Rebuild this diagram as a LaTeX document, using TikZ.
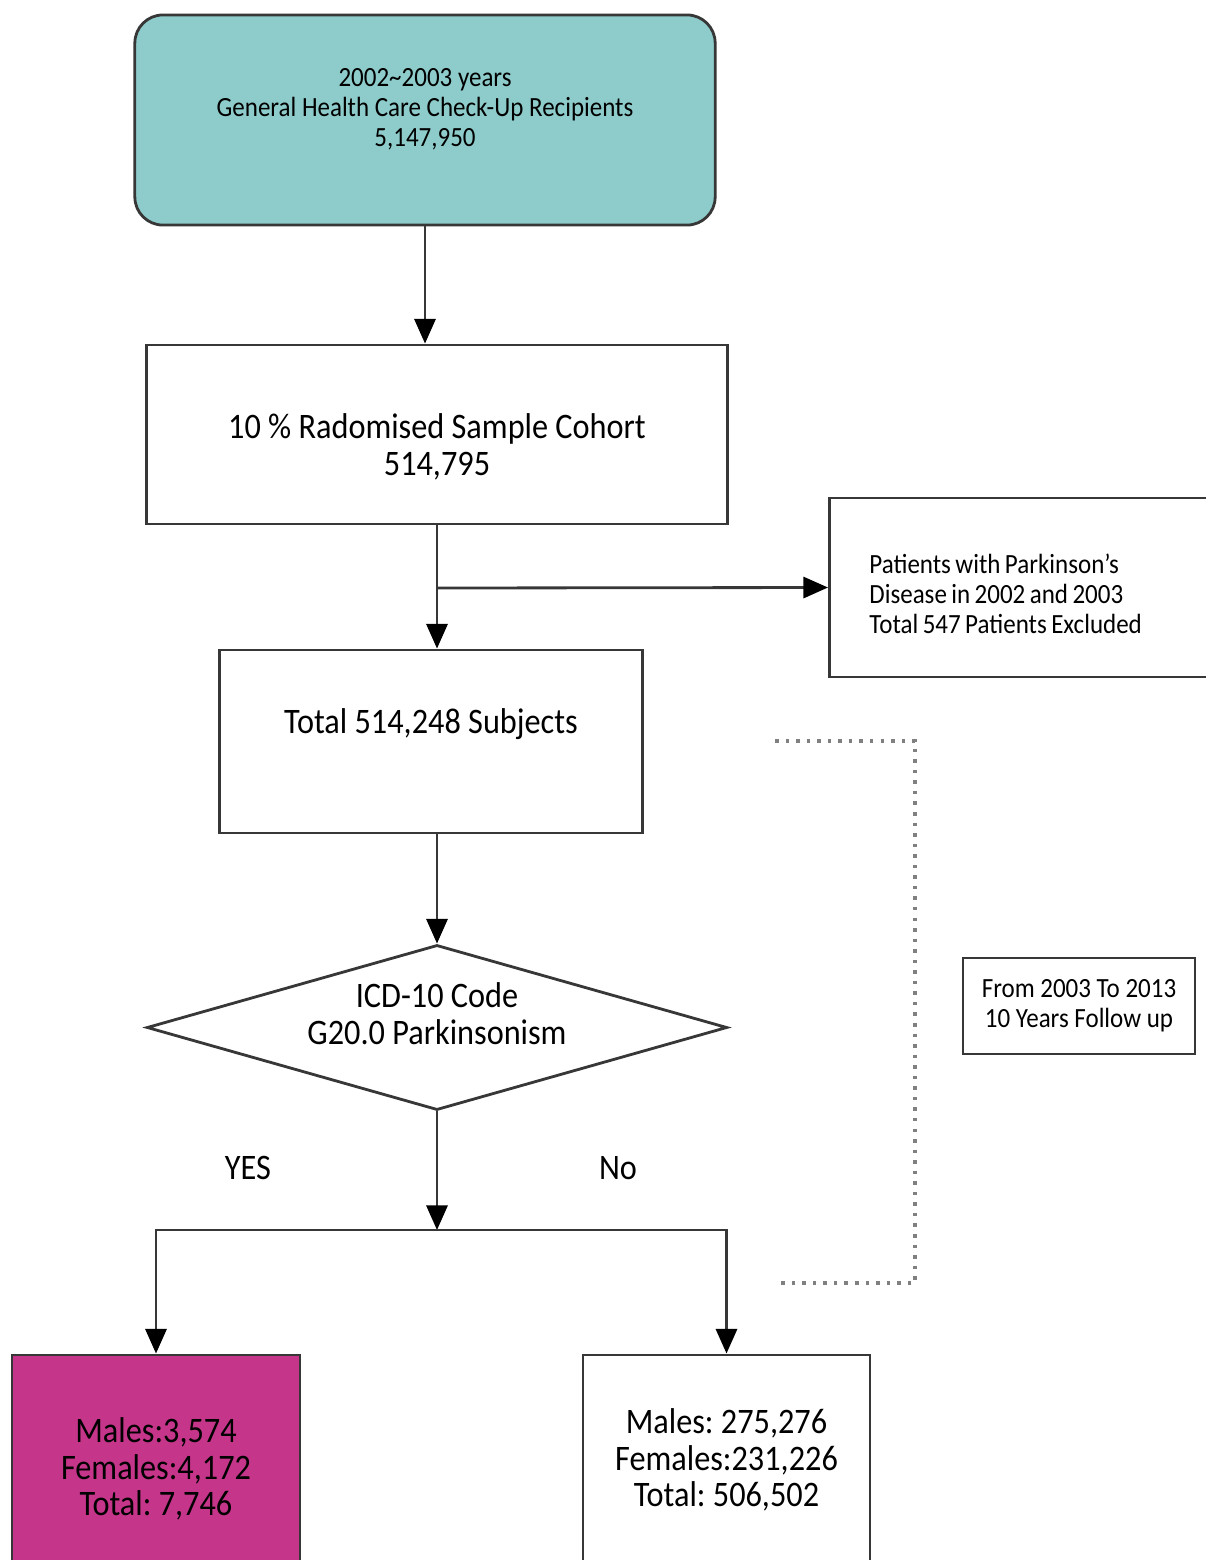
\documentclass[tikz,border=0pt]{standalone}
\usepackage{fontspec}
\setmainfont{Carlito}[FakeStretch=0.9]
\usetikzlibrary{positioning,shapes.geometric,arrows.meta}

\definecolor{cohortteal}{RGB}{142,204,203}
\definecolor{casemagenta}{RGB}{197,53,138}
\definecolor{edgegray}{RGB}{55,55,55}

\begin{document}
\frenchspacing
\begin{tikzpicture}[x=0.01cm,y=-0.01cm,>={Triangle[width=6pt,length=7pt,color=black]},
	box/.style={draw=edgegray,line width=0.8pt,rectangle,align=center,inner sep=0pt},
	flow/.style={->,draw=edgegray,line width=0.8pt},
	bracket/.style={draw=gray,dotted,line width=1pt},
	big/.style={font=\fontsize{10.2}{10.4}\selectfont},
	small/.style={font=\fontsize{7.9}{8.5}\selectfont}
	]
	\useasboundingbox (0,0) rectangle (1206,1560);
	\clip (0,0) rectangle (1206,1560);

	\node[box,small,rounded corners=8pt,fill=cohortteal,minimum width=5.8cm,minimum height=2.1cm,text depth=0.25cm] (n0) at (425,120)
	{2002\textasciitilde 2003 years\\General Health Care Check-Up Recipients\\5,147,950};

	\node[box,big,minimum width=5.8cm,minimum height=1.79cm] (n1) at (437,434.5)
	{\rule{0pt}{0.5cm}10 \% Radomised Sample Cohort\\514,795};

	\node[box,big,minimum width=4.22cm,minimum height=1.83cm,text depth=0.4cm] (n2) at (431,741.5)
	{Total 514,248 Subjects};

	% excluded patients, box runs off the right edge
	\node[box,small,anchor=west,minimum width=3.85cm,minimum height=1.79cm,text width=3.05cm,inner xsep=0.4cm,align=left,text height=0.32cm] (ex) at (828,587.5)
	{\spaceskip=0.16em Patients with Parkinson's\\Disease in 2002 and 2003\\Total 547 Patients Excluded};

	\node[diamond,draw=edgegray,line width=0.8pt,inner sep=0pt,minimum width=5.8cm,minimum height=1.65cm,
		label={[big,align=center,yshift=0.14cm]center:{ICD-10 Code\\G20.0 Parkinsonism}}] (d) at (437,1027.5) {};

	\node[big] (yes) at (248,1168) {YES};
	\node[big] (no) at (618,1168) {No};

	\node[box,big,fill=casemagenta,minimum width=2.88cm,minimum height=2.28cm] (yb) at (156,1469)
	{Males:3,574\\Females:4,172\\Total: 7,746};
	\node[box,big,minimum width=2.87cm,minimum height=2.1cm] (nb) at (726.5,1460)
	{Males: 275,276\\Females:231,226\\Total: 506,502};

	\node[box,small,minimum width=2.32cm,minimum height=0.96cm] (fu) at (1079,1006)
	{From 2003 To 2013\\10 Years Follow up};

	\coordinate (br) at (437,588);
	\coordinate (sp) at (437,1230);

	\draw[flow] (n0.south) -- (n0.south |- n1.north);
	\draw[flow] (n1.south) -- (n1.south |- n2.north);
	\draw[flow] (br) -- (ex.west);
	\draw[flow] (d.north |- n2.south) -- (d.north);
	\draw[flow] (d.south) -- (sp);
	\draw[flow] (sp) -| (yb.north);
	\draw[flow] (sp) -| (nb.north);

	% follow up period
	\coordinate (f1) at (775,741);
	\coordinate (f2) at (915,741);
	\coordinate (f3) at (915,1283);
	\coordinate (f4) at (775,1283);
	\draw[bracket] (f1) -- (f2) -- (f3) -- (f4);

\end{tikzpicture}
\end{document}
